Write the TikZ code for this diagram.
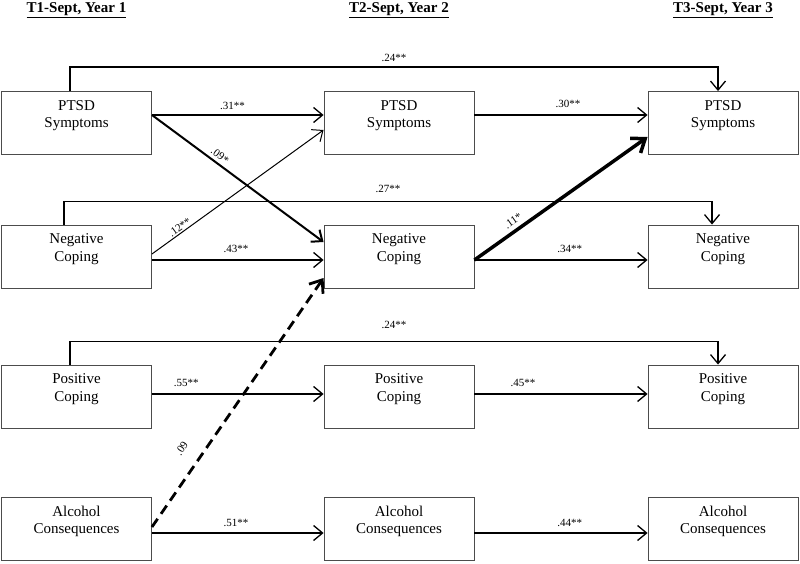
\documentclass[tikz,border=0pt]{standalone}
\usepackage{fontspec}
\setmainfont{Liberation Serif}
\usepackage{tikz}
\usetikzlibrary{
  calc,
  positioning,
  arrows.meta
}
\tikzset{
  box/.style={draw=black!70, line width=0.9pt, minimum width=150pt, minimum height=63pt, inner sep=0pt},
  boxtext/.style={align=center, font=\fontsize{15}{17.5}\selectfont, yshift=7.5pt},
  arr/.style={line width=1.3pt, -{Straight Barb[length=9pt,width=15pt]}},
  coef/.style={font=\fontsize{11}{13}\selectfont, inner sep=3pt},
  heading/.style={font=\fontsize{15}{17}\selectfont\bfseries, anchor=base}
}

\begin{document}
\begin{tikzpicture}[x=1pt, y=1pt]
                  \useasboundingbox (0, 0) rectangle (800, 563);

                  \node[heading] (H1) at (76.5, 550) {\underline{T1-Sept, Year 1}};
                  \node[heading] (H2) at (399, 550) {\underline{T2-Sept, Year 2}};
                  \node[heading] (H3) at (723, 550) {\underline{T3-Sept, Year 3}};

                  \node[box, label={[boxtext]center:PTSD\\Symptoms}] (PT1) at (76.5, 440) {};
                  \node[box, label={[boxtext]center:Negative\\Coping}] (NC1) at (76.5, 306.5) {};
                  \node[box, label={[boxtext]center:Positive\\Coping}] (PC1) at (76.5, 166.5) {};
                  \node[box, label={[boxtext]center:Alcohol\\Consequences}] (AC1) at (76.5, 34) {};

                  \node[box, label={[boxtext]center:PTSD\\Symptoms}] (PT2) at (399, 440) {};
                  \node[box, label={[boxtext]center:Negative\\Coping}] (NC2) at (399, 306.5) {};
                  \node[box, label={[boxtext]center:Positive\\Coping}] (PC2) at (399, 166.5) {};
                  \node[box, label={[boxtext]center:Alcohol\\Consequences}] (AC2) at (399, 34) {};

                  \node[box, label={[boxtext]center:PTSD\\Symptoms}] (PT3) at (723, 440) {};
                  \node[box, label={[boxtext]center:Negative\\Coping}] (NC3) at (723, 306.5) {};
                  \node[box, label={[boxtext]center:Positive\\Coping}] (PC3) at (723, 166.5) {};
                  \node[box, label={[boxtext]center:Alcohol\\Consequences}] (AC3) at (723, 34) {};

                  \draw[arr] ($(PT1.east) + (0, 8)$) -- node[coef, above=2pt, pos=0.47] {.31**} ($(PT2.west) + (0, 8)$);
                  \draw[arr] ($(PT2.east) + (0, 8)$) -- node[coef, above=4pt, pos=0.54] {.30**} ($(PT3.west) + (0, 8)$);
                  \draw[arr] ($(NC1.east) + (0, -3.5)$) -- node[coef, above=4pt, pos=0.49] {.43**} ($(NC2.west) + (0, -3.5)$);
                  \draw[arr] ($(NC2.east) + (0, -3.5)$) -- node[coef, above=4pt, pos=0.55] {.34**} ($(NC3.west) + (0, -3.5)$);
                  \draw[arr] ($(PC1.east) + (0, 2.5)$) -- node[coef, above=4pt, pos=0.2] {.55**} ($(PC2.west) + (0, 2.5)$);
                  \draw[arr] ($(PC2.east) + (0, 2.5)$) -- node[coef, above=4pt, pos=0.28] {.45**} ($(PC3.west) + (0, 2.5)$);
                  \draw[arr] ($(AC1.east) + (0, -4)$) -- node[coef, above=3pt, pos=0.49] {.51**} ($(AC2.west) + (0, -4)$);
                  \draw[arr] ($(AC2.east) + (0, -4)$) -- node[coef, above=3pt, pos=0.55] {.44**} ($(AC3.west) + (0, -4)$);

                  \draw[arr] ($(PT1.north) + (-6.5, 0)$) -- ++(0, 24) -| node[coef, above=2pt, pos=0.25] {.24**} ($(PT3.north) + (-5, 0)$);
                  \draw[arr] ($(NC1.north) + (-12.5, 0)$) -- ++(0, 23) -| node[coef, above=5pt, pos=0.25] {.27**} ($(NC3.north) + (-11, 0)$);
                  \draw[arr] ($(PC1.north) + (-6.5, 0)$) -- ++(0, 23) -| node[coef, above=9pt, pos=0.25] {.24**} ($(PC3.north) + (-5, 0)$);

                  \draw[arr, line width=2pt] ($(PT1.east) + (0, 8)$) -- node[coef, sloped, above, pos=0.37] {.09*} ($(NC2.west) + (0, 14.5)$);
                  \draw[arr, line width=1pt] ($(NC1.east) + (0, 2.5)$) -- node[coef, sloped, above, inner sep=1pt, pos=0.18] {.12**} ($(PT2.west) + (0, -7)$);
                  \draw[line width=3.5pt, -{Straight Barb[length=12pt,width=18pt]}] ($(NC2.east) + (0, -3.5)$) -- node[coef, sloped, above=1pt, pos=0.255] {.11*} ($(PT3.west) + (0, -14)$);
                  \draw[line width=2.8pt, dash pattern=on 10pt off 6pt, -{Straight Barb[length=11pt,width=17pt]}] ($(AC1.east) + (0, 2)$) -- node[coef, sloped, above=12pt, pos=0.27] {.09} ($(NC2.west) + (0, -21.5)$);
                \end{tikzpicture}
\end{document}
